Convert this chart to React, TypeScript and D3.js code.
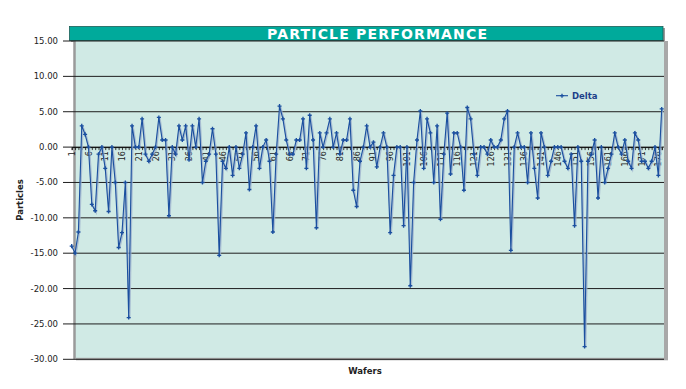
import React from 'react';
import * as d3 from 'd3';

// Delta per wafer
const deltaValues: number[] = [
  -14, -15, -12, 3, 1.8, 0, -8.1, -9, -1, 0,
  -3, -9.1, 0, -5, -14.2, -12.1, -5, -24.1, 3, 0,
  0, 4, -1, -2, -1, 0, 4.2, 1, 1, -9.7,
  0, -1, 3, 1, 3, -1.8, 3, 0, 4, -5,
  -2, -1, 2.6, -1, -15.3, -2, -3, 0, -4, 0,
  -3, -1, 2, -6, 0, 3, -3, 0, 1, -2,
  -12, -1, 5.8, 4, 1, -1, -1, 1, 1, 4,
  -3, 4.5, 1, -11.4, 2, 0, 2, 4, 0, 2,
  -1, 1, 1, 4, -6.1, -8.4, -2, 0, 3, 0,
  0.7, -2.8, 0, 2, 0, -12.1, -4, 0, 0, -11.1,
  0, -19.6, -5, 1, 5.1, -3, 4, 2, -5, 3,
  -10.2, -1, 4.8, -3.8, 2, 2, 0, -6.1, 5.6, 4,
  -1, -4, 0, 0, -1, 1, 0, 0, 1, 4,
  5.1, -14.6, 0, 2, 0, 0, -5, 2, -3, -7.2,
  2, 0, -4, -2, 0, 0, 0, -2, -3, -1,
  -11.1, 0, -2, -28.2, -2, -1, 1, -7.2, 0, -5,
  -3, -1, 2, 0, -1, 1, -2, -3, 2, 1,
  -2, -2, -3, -2, 0, -4, 5.4,
];
const wafers: number[] = deltaValues.map((_, i) => i + 1);
const yTicks: number[] = [15, 10, 5, 0, -5, -10, -15, -20, -25, -30];

const font = "'DejaVu Sans', Verdana, sans-serif";

const App: React.FC = () => {
  const svgRef = React.useRef<SVGSVGElement>(null);

  React.useEffect(() => {
    if (!svgRef.current) return;
    const svg = d3.select(svgRef.current);
    svg.selectAll('*').remove();

    const plot = { left: 74, right: 664, top: 41, bottom: 359.3 };

    const x = d3.scalePoint<number>()
      .domain(wafers)
      .range([71.7, 661.7]);

    const y = d3.scaleLinear()
      .domain([-30, 15])
      .range([plot.bottom, plot.top]);

    svg.append('rect').attr('width', 686).attr('height', 389).attr('fill', '#fff');

    // Title bar
    svg.append('rect')
      .attr('x', 71).attr('y', 28).attr('width', 594).attr('height', 14)
      .attr('fill', '#9a9a9a');
    svg.append('rect')
      .attr('x', 69.5).attr('y', 26.5).attr('width', 593.5).attr('height', 14)
      .attr('fill', '#00aa9b').attr('stroke', '#1b5e57').attr('stroke-width', 0.8);
    svg.append('text')
      .attr('x', 377).attr('y', 38.8)
      .attr('text-anchor', 'middle')
      .attr('textLength', 220).attr('lengthAdjust', 'spacing')
      .style('font-family', font).style('font-size', '14px').style('font-weight', 'bold')
      .style('fill', '#fff')
      .text('PARTICLE PERFORMANCE');

    // Plot area with shadow
    svg.append('rect')
      .attr('x', plot.left + 2).attr('y', plot.top).attr('width', plot.right - plot.left + 2)
      .attr('height', plot.bottom - plot.top + 1)
      .attr('fill', '#a8a8a8');
    svg.append('rect')
      .attr('x', plot.left).attr('y', plot.top).attr('width', plot.right - plot.left)
      .attr('height', plot.bottom - plot.top - 1.5)
      .attr('fill', '#d0eae5');
    svg.append('line')
      .attr('x1', plot.left + 0.5).attr('x2', plot.left + 0.5)
      .attr('y1', plot.top).attr('y2', plot.bottom)
      .attr('stroke', '#9a9a9a').attr('stroke-width', 2.5);

    // Gridlines and y labels
    const grid = svg.append('g');
    yTicks.forEach(t => {
      grid.append('line')
        .attr('x1', 63).attr('x2', plot.right)
        .attr('y1', y(t)).attr('y2', y(t))
        .attr('stroke', '#1e1e1e').attr('stroke-width', 1);
      grid.append('text')
        .attr('x', 58).attr('y', y(t) + 3)
        .attr('text-anchor', 'end')
        .style('font-family', font).style('font-size', '8.5px')
        .style('fill', '#222')
        .text(t.toFixed(2));
    });

    // Category axis along zero
    const xAxis = svg.append('g')
      .attr('transform', `translate(0,${y(0)})`)
      .call(d3.axisBottom(x)
        .tickSize(3)
        .tickFormat(d => ((d as number) - 1) % 5 === 0 ? String(d) : ''));
    xAxis.select('.domain').attr('stroke', '#111');
    xAxis.selectAll('.tick line').attr('stroke', '#111').attr('stroke-width', 0.8);
    xAxis.selectAll('.tick text')
      .attr('transform', 'rotate(-90)')
      .attr('x', -4).attr('y', 0).attr('dy', '0.32em')
      .style('text-anchor', 'end')
      .style('font-family', font).style('font-size', '8px')
      .style('fill', '#222');

    // Series
    const line = d3.line<number>()
      .x((_, i) => x(wafers[i])!)
      .y(d => y(d));

    svg.append('path')
      .datum(deltaValues)
      .attr('d', line)
      .attr('transform', 'translate(0.8,0.8)')
      .attr('fill', 'none')
      .attr('stroke', '#9db2cd').attr('stroke-width', 2).attr('opacity', 0.8);
    svg.append('path')
      .datum(deltaValues)
      .attr('d', line)
      .attr('fill', 'none')
      .attr('stroke', '#1a4f9f').attr('stroke-width', 1.1);

    const marker = d3.symbol().type(d3.symbolCross).size(9);
    svg.append('g')
      .selectAll('path')
      .data(deltaValues)
      .join('path')
      .attr('d', marker)
      .attr('transform', (d, i) => `translate(${x(wafers[i])},${y(d)})`)
      .attr('fill', '#1a4f9f');

    // Legend
    const legend = svg.append('g').attr('transform', 'translate(556,95.7)');
    legend.append('line')
      .attr('x1', 0).attr('x2', 12)
      .attr('stroke', '#1a4f9f').attr('stroke-width', 1.1);
    legend.append('path')
      .attr('d', marker)
      .attr('transform', 'translate(6,0)')
      .attr('fill', '#1a4f9f');
    legend.append('text')
      .attr('x', 16).attr('y', 3)
      .style('font-family', font).style('font-size', '8.5px').style('font-weight', 'bold')
      .style('fill', '#1d3f8a')
      .text('Delta');

    // Axis titles
    svg.append('text')
      .attr('transform', 'translate(23,200) rotate(-90)')
      .attr('text-anchor', 'middle')
      .style('font-family', font).style('font-size', '8.5px').style('font-weight', 'bold')
      .style('fill', '#222')
      .text('Particles');
    svg.append('text')
      .attr('x', 365).attr('y', 374)
      .attr('text-anchor', 'middle')
      .style('font-family', font).style('font-size', '8.5px').style('font-weight', 'bold')
      .style('fill', '#222')
      .text('Wafers');
  }, []);

  return (
    <svg
      ref={svgRef}
      width={686}
      height={389}
      viewBox="0 0 686 389"
      style={{ position: 'absolute', left: 0, top: 0 }}
    />
  );
};

export default App;
